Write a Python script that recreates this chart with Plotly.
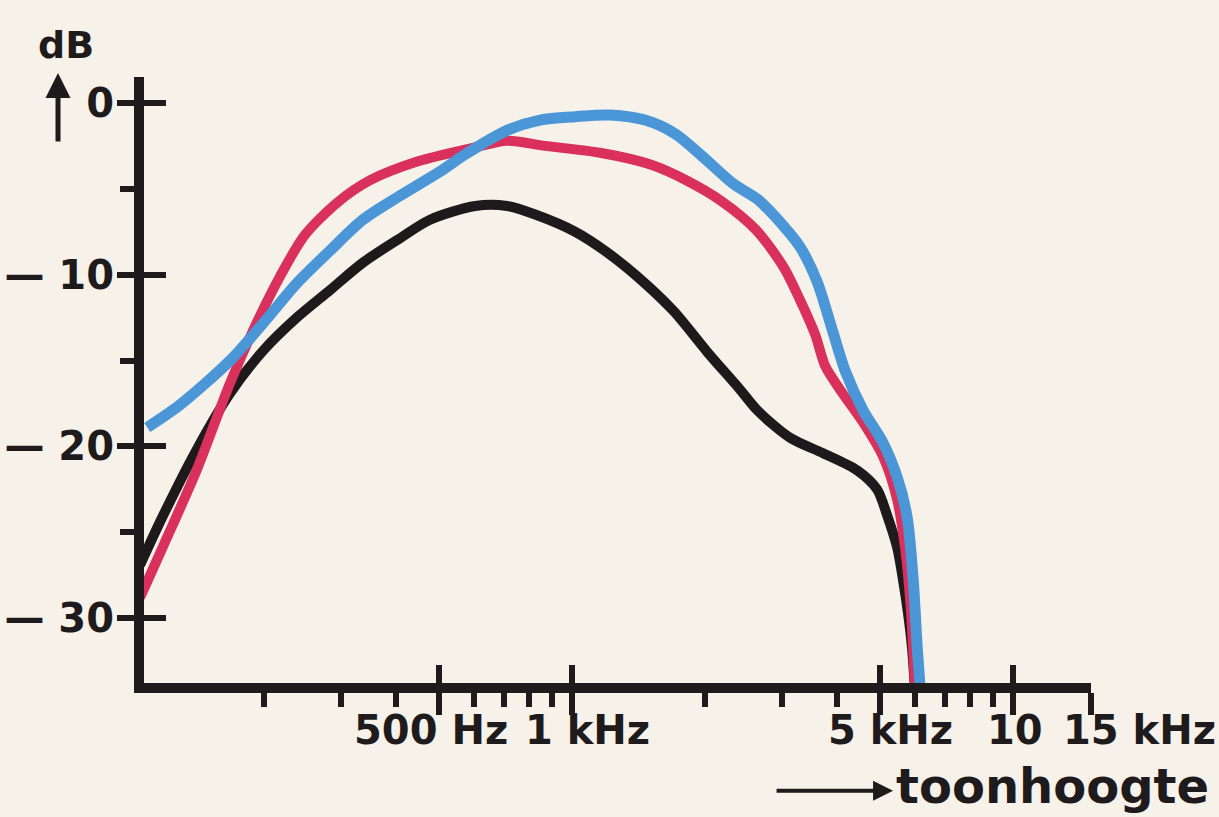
import numpy as np
import plotly.graph_objects as go

# Curve data (frequency in Hz, level in dB)
FREQ_BLUE = [109, 129, 168, 200, 238, 283, 336, 408, 502, 573, 713, 847, 1017, 1222,
             1466, 1715, 1955, 2321, 2633, 3027, 3294, 3597, 3893, 4165, 4574, 5078,
             5465, 5754, 5943, 6067, 6166]
DB_BLUE = [-18.9, -17.6, -15.0, -12.8, -10.5, -8.6, -6.8, -5.4, -4.0, -3.0, -1.6, -1.0,
           -0.8, -0.7, -1.0, -1.8, -3.0, -4.7, -5.6, -7.2, -8.4, -10.4, -13.2, -15.6,
           -17.9, -19.8, -21.8, -24.1, -27.8, -31.7, -34.2]

FREQ_RED = [105, 118, 141, 168, 193, 218, 248, 294, 349, 448, 600, 713, 869, 1158, 1514,
            1816, 2179, 2617, 3027, 3294, 3563, 3749, 4056, 4574, 5078, 5465, 5700, 5870,
            5998]
DB_RED = [-28.8, -25.9, -21.4, -16.3, -12.8, -10.1, -7.7, -5.8, -4.5, -3.4, -2.6, -2.2,
          -2.5, -2.9, -3.6, -4.5, -5.7, -7.4, -9.6, -11.5, -13.5, -15.3, -16.7, -18.6,
          -20.6, -23.1, -26.0, -29.5, -34.2]

FREQ_BLACK = [105, 118, 141, 168, 200, 238, 283, 336, 401, 477, 604, 713, 826, 1017, 1202,
              1406, 1698, 2027, 2408, 2633, 3124, 3713, 4436, 4919, 5183, 5465, 5636, 5781,
              5903, 5998]
DB_BLACK = [-26.9, -24.1, -20.2, -16.9, -14.4, -12.5, -10.9, -9.3, -8.0, -6.8, -6.0, -6.0,
            -6.5, -7.5, -8.7, -10.1, -12.1, -14.5, -16.7, -17.9, -19.5, -20.4, -21.4, -22.5,
            -24.0, -25.9, -27.8, -29.7, -31.7, -34.2]

# Axis ticks and labels
Y_MAJOR = [0, -10, -20, -30]
Y_MAJOR_TEXT = ["0", "— 10", "— 20", "— 30"]
Y_MINOR = [-5, -15, -25]
X_MAJOR = [500, 1000, 5000, 10000, 15000]
X_MAJOR_TEXT = ["500 Hz", "1 kHz", "5 kHz", "10", "15 kHz"]
X_MINOR = [200, 300, 400, 600, 700, 800, 900, 2000, 3000, 4000, 6000, 7000, 8000, 9000]

INK = '#1f1b1c'
PAPER = '#f6f2e9'
FONT = 'DejaVu Sans'

X_RANGE = [2.030, 4.177]
Y_RANGE = [-33.78, 1.51]

fig = go.Figure()

for freq, db, color, width in [(FREQ_BLACK, DB_BLACK, '#1e1a1b', 10),
                               (FREQ_RED, DB_RED, '#d9305c', 10),
                               (FREQ_BLUE, DB_BLUE, '#4b96d7', 11)]:
    fig.add_trace(go.Scatter(
        x=freq, y=db, mode='lines',
        line=dict(color=color, width=width, shape='spline', smoothing=0.8),
        showlegend=False, hoverinfo='skip'
    ))

# empty trace so the overlay axes (inner halves of the major ticks) get drawn
fig.add_trace(go.Scatter(x=[], y=[], xaxis='x2', yaxis='y2', showlegend=False))

tick_font = dict(family=FONT, size=40, color=INK, weight='bold')

annotations = []
for f, txt, dx in zip(X_MAJOR, X_MAJOR_TEXT, [-8, 16, 10, 2, 49]):
    annotations.append(dict(
        x=np.log10(f), xref='x', y=0, yref='paper', text=txt, showarrow=False,
        xanchor='center', yanchor='middle', xshift=dx, yshift=-47, font=tick_font
    ))

# "toonhoogte" with its arrow
annotations.append(dict(
    x=0.959, y=-0.170, xref='paper', yref='paper', text='toonhoogte',
    xanchor='center', yanchor='middle', showarrow=False,
    font=dict(family=FONT, size=48, color=INK, weight='bold')
))
annotations.append(dict(
    x=0.791, y=-0.178, xref='paper', yref='paper', text='', showarrow=True,
    ax=-118, ay=0, arrowhead=2, arrowsize=1.0, arrowwidth=4, arrowcolor=INK
))

# "dB" with upward arrow
annotations.append(dict(
    x=-0.0824, y=1.0528, xref='paper', yref='paper', text='dB',
    xanchor='center', yanchor='middle', showarrow=False,
    font=dict(family=FONT, size=38, color=INK, weight='bold')
))
annotations.append(dict(
    x=-0.0908, y=1.0066, xref='paper', yref='paper', text='', showarrow=True,
    ax=0, ay=70, arrowhead=2, arrowsize=1.0, arrowwidth=5, arrowcolor=INK
))

fig.update_layout(
    width=1219, height=817,
    margin=dict(l=144, r=128, t=77, b=134),
    paper_bgcolor=PAPER, plot_bgcolor=PAPER,
    xaxis=dict(
        type='log', range=X_RANGE, showline=True, linewidth=10, linecolor=INK,
        ticks='outside', tickmode='array', tickvals=X_MAJOR, ticklen=22, tickwidth=6,
        tickcolor=INK, showticklabels=False, showgrid=False, zeroline=False,
        automargin=False,
        minor=dict(tickmode='array', tickvals=X_MINOR, ticks='outside', ticklen=14,
                   tickwidth=6, tickcolor=INK, showgrid=False)
    ),
    xaxis2=dict(
        type='log', range=X_RANGE, overlaying='x', anchor='y', side='bottom',
        ticks='inside', tickmode='array', tickvals=X_MAJOR, ticklen=18, tickwidth=6,
        tickcolor=INK, showticklabels=False, showgrid=False, zeroline=False,
        showline=False, automargin=False
    ),
    yaxis=dict(
        range=Y_RANGE, showline=True, linewidth=10, linecolor=INK,
        ticks='outside', tickmode='array', tickvals=Y_MAJOR, ticktext=Y_MAJOR_TEXT,
        ticklen=17, tickwidth=6, tickcolor=INK, tickfont=tick_font,
        ticklabelstandoff=-5,
        showgrid=False, zeroline=False, automargin=False,
        minor=dict(tickmode='array', tickvals=Y_MINOR, ticks='outside', ticklen=14,
                   tickwidth=6, tickcolor=INK, showgrid=False)
    ),
    yaxis2=dict(
        range=Y_RANGE, overlaying='y', anchor='x', side='left',
        ticks='inside', tickmode='array', tickvals=Y_MAJOR, ticklen=22, tickwidth=6,
        tickcolor=INK, showticklabels=False, showgrid=False, zeroline=False,
        showline=False, automargin=False
    ),
    annotations=annotations
)

# drop the browser's default page margin so the figure fills the window
fig.write_html("out.html", config={'displayModeBar': False},
               post_script="document.body.style.margin='0';"
                           "document.body.style.background='#f6f2e9';")
